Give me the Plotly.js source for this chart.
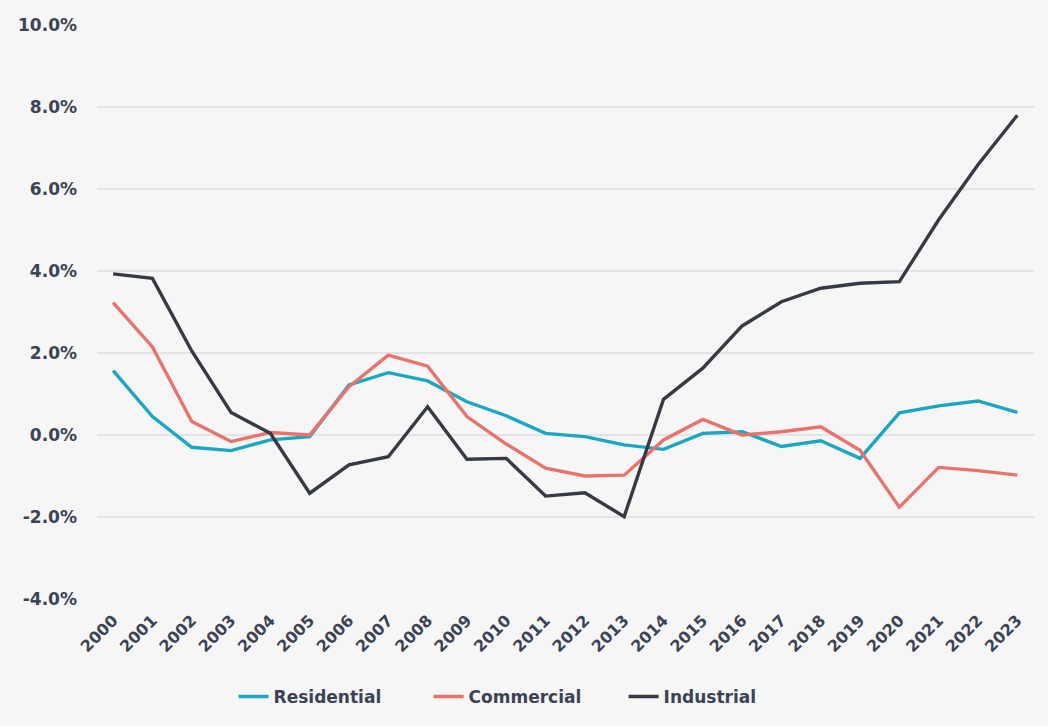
<!DOCTYPE html>
<html>
<head>
<meta charset="utf-8">
<script src="https://cdn.plot.ly/plotly-3.0.1.min.js"></script>
<style>
html,body{margin:0;padding:0;background:#f6f6f6;}
#chart{width:1048px;height:726px;}
</style>
</head>
<body>
<div id="chart"></div>
<script>
const years = ["2000","2001","2002","2003","2004","2005","2006","2007","2008","2009","2010","2011","2012","2013","2014","2015","2016","2017","2018","2019","2020","2021","2022","2023"];
const residential = [1.57,0.45,-0.30,-0.38,-0.12,-0.04,1.22,1.52,1.32,0.81,0.47,0.04,-0.04,-0.24,-0.35,0.04,0.08,-0.28,-0.14,-0.57,0.54,0.71,0.83,0.55];
const commercial = [3.23,2.15,0.33,-0.16,0.06,0.00,1.18,1.95,1.68,0.45,-0.22,-0.81,-1.00,-0.98,-0.12,0.38,0.00,0.08,0.20,-0.37,-1.76,-0.79,-0.87,-0.98];
const industrial = [3.93,3.82,2.05,0.55,0.04,-1.42,-0.73,-0.53,0.69,-0.59,-0.57,-1.49,-1.41,-1.99,0.87,1.63,2.66,3.25,3.58,3.70,3.74,5.25,6.59,7.80];
const yTicks = [-4,-2,0,2,4,6,8,10];
const yTickText = ["-4.0%","-2.0%","0.0%","2.0%","4.0%","6.0%","8.0%","10.0%"];

const textColor = "#3b4354";
const font = "DejaVu Sans, sans-serif";

const traces = [
  {x: years, y: residential, name: "Residential", type: "scatter", mode: "lines",
   line: {color: "#1ba6c1", width: 3.4}},
  {x: years, y: commercial, name: "Commercial", type: "scatter", mode: "lines",
   line: {color: "#e8736c", width: 3.4}},
  {x: years, y: industrial, name: "Industrial", type: "scatter", mode: "lines",
   line: {color: "#363a42", width: 3.4}}
];

const layout = {
  width: 1048, height: 726,
  paper_bgcolor: "#f6f6f6", plot_bgcolor: "#f6f6f6",
  margin: {l: 97, r: 13, t: 25, b: 127},
  showlegend: true,
  legend: {orientation: "h", xref: "container", yref: "container", x: 0.502, y: 0.04,
           xanchor: "center", yanchor: "middle", entrywidth: 150,
           font: {family: font, size: 17, color: textColor, weight: "bold"},
           bgcolor: "rgba(0,0,0,0)"},
  xaxis: {type: "category", range: [-0.41, 23.45], showgrid: false, zeroline: false,
          showline: false, ticks: "", tickangle: -45, ticklabelstandoff: 8,
          tickfont: {family: font, size: 16, color: textColor, weight: "bold"}},
  yaxis: {range: [-4, 10], tickvals: yTicks, ticktext: yTickText, showgrid: true,
          gridcolor: "#e4e4e4", gridwidth: 1.5, zeroline: false, showline: false, ticks: "",
          ticklabelstandoff: 19,
          tickfont: {family: font, size: 17, color: textColor, weight: "bold"}}
};

Plotly.newPlot("chart", traces, layout, {displayModeBar: false, staticPlot: true});
</script>
</body>
</html>
